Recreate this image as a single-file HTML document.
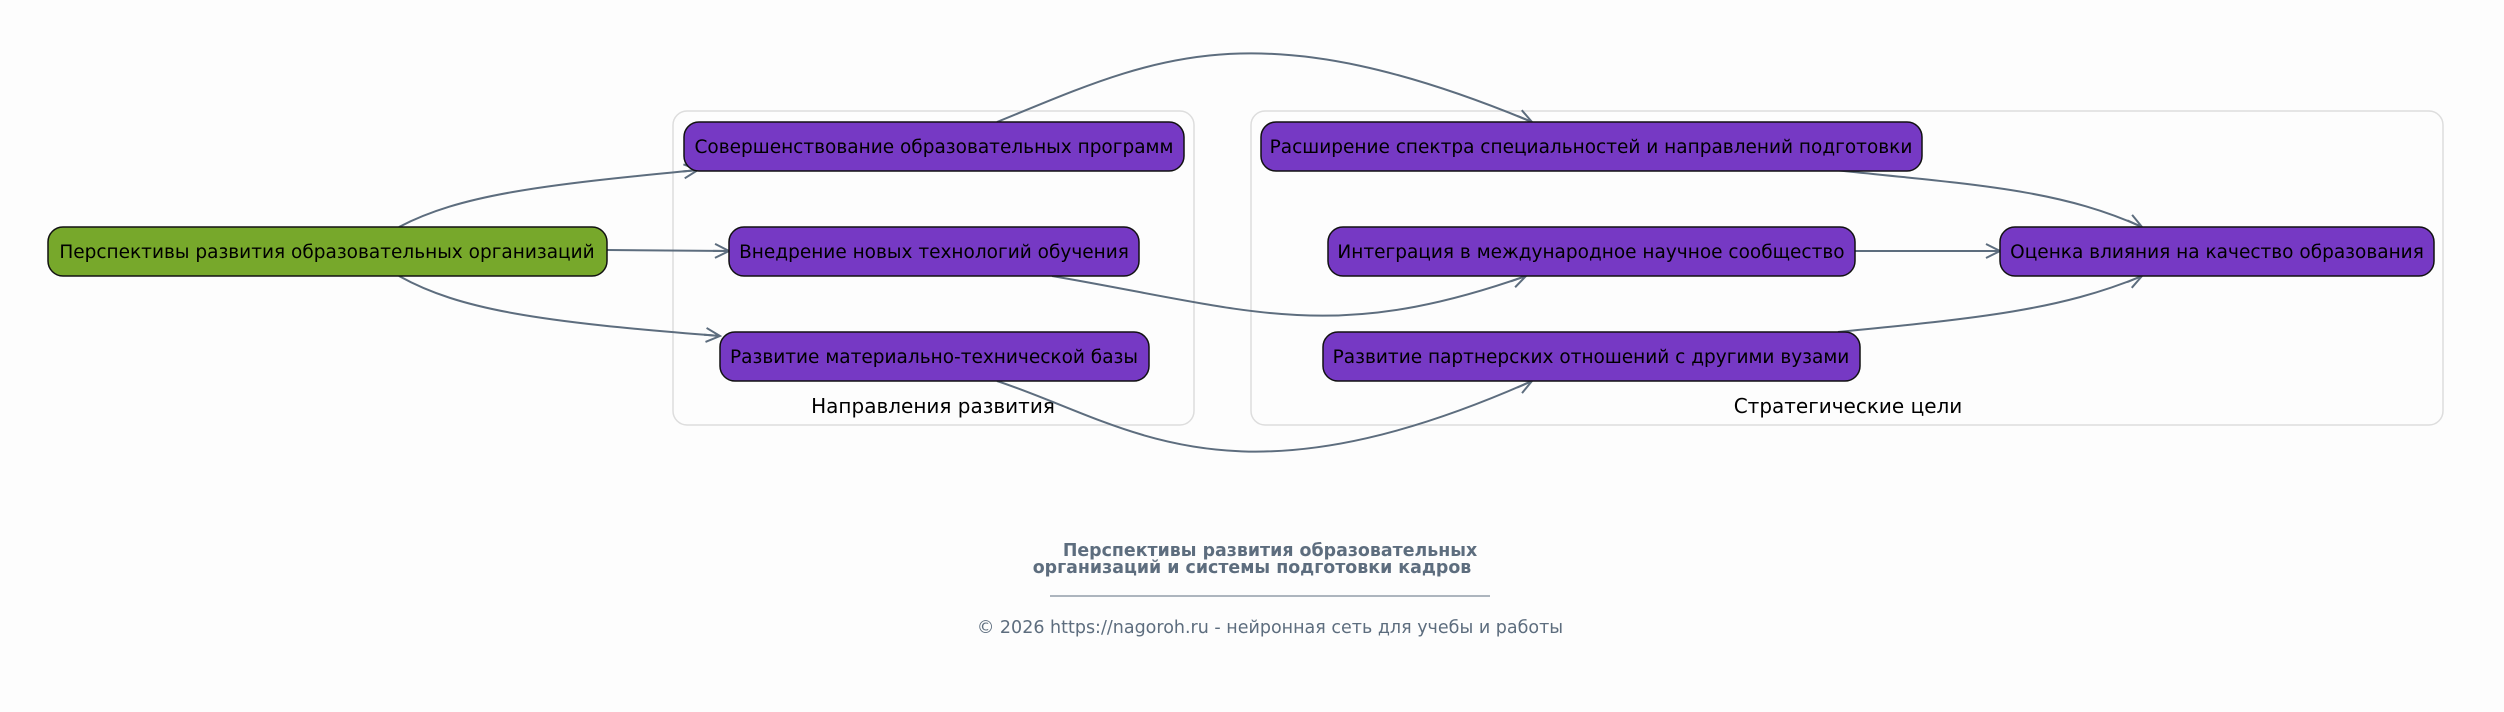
<!DOCTYPE html>
<html><head><meta charset="utf-8"><style>
html,body{margin:0;padding:0;background:#fdfdfd;}
svg{display:block;}
text{font-family:"DejaVu Sans","Liberation Sans",sans-serif;}
</style></head><body>
<svg width="2504" height="712" viewBox="0 0 2504 712" xmlns="http://www.w3.org/2000/svg">
<defs>
<marker id="a" markerWidth="20" markerHeight="20" refX="16" refY="8" orient="auto" markerUnits="userSpaceOnUse">
<path d="M2,1 L16,8 L2,15 M16,8 L0,8" fill="none" stroke="#5d6d7e" stroke-width="2"/>
</marker>
</defs>
<rect x="673" y="111" width="521" height="314" rx="14" fill="none" stroke="#dddddd" stroke-width="1.5"/>
<rect x="1251" y="111" width="1192" height="314" rx="14" fill="none" stroke="#dddddd" stroke-width="1.5"/>
<text x="933" y="413" font-size="20" text-anchor="middle" fill="#000">Направления развития</text>
<text x="1848" y="413" font-size="20" text-anchor="middle" fill="#000">Стратегические цели</text>

<g fill="none" stroke="#5d6d7e" stroke-width="2" marker-end="url(#a)">
<path d="M399,227 C460,195 540,185 698,170"/>
<path d="M607,250 L729,251"/>
<path d="M399,276 C460,310 540,322 720,336"/>
<path d="M997,122 C1150,60 1250,5 1532,122"/>
<path d="M1052,276 C1250,310 1330,345 1526,276"/>
<path d="M997,381 C1130,425 1230,515 1532,381"/>
<path d="M1834,170 C1980,185 2060,190 2142,227"/>
<path d="M1855,251 L2000,251"/>
<path d="M1838,332 C1980,318 2060,310 2142,276"/>
</g>

<g stroke="#111" stroke-width="1.5">
<rect x="48" y="227" width="559" height="49" rx="15" fill="#77a82b"/>
<rect x="684" y="122" width="500" height="49" rx="15" fill="#7639c4"/>
<rect x="729" y="227" width="410" height="49" rx="15" fill="#7639c4"/>
<rect x="720" y="332" width="429" height="49" rx="15" fill="#7639c4"/>
<rect x="1261" y="122" width="661" height="49" rx="15" fill="#7639c4"/>
<rect x="1328" y="227" width="527" height="49" rx="15" fill="#7639c4"/>
<rect x="1323" y="332" width="537" height="49" rx="15" fill="#7639c4"/>
<rect x="2000" y="227" width="434" height="49" rx="15" fill="#7639c4"/>
</g>
<g font-size="18.5" fill="#000" text-anchor="middle">
<text x="327" y="258">Перспективы развития образовательных организаций</text>
<text x="934" y="153">Совершенствование образовательных программ</text>
<text x="934" y="258">Внедрение новых технологий обучения</text>
<text x="934" y="363">Развитие материально-технической базы</text>
<text x="1591" y="153">Расширение спектра специальностей и направлений подготовки</text>
<text x="1591" y="258">Интеграция в международное научное сообщество</text>
<text x="1591" y="363">Развитие партнерских отношений с другими вузами</text>
<text x="2217" y="258">Оценка влияния на качество образования</text>
</g>

<g fill="#5d6d7e" text-anchor="middle">
<text x="1270" y="556" font-size="17.4" font-weight="bold">Перспективы развития образовательных</text>
<text x="1252" y="573" font-size="17.4" font-weight="bold">организаций и системы подготовки кадров</text>
<line x1="1050" y1="596" x2="1490" y2="596" stroke="#5d6d7e" stroke-width="1"/>
<text x="1270" y="633" font-size="17.5">© 2026 https://nagoroh.ru - нейронная сеть для учебы и работы</text>
</g>
</svg>
</body></html>
